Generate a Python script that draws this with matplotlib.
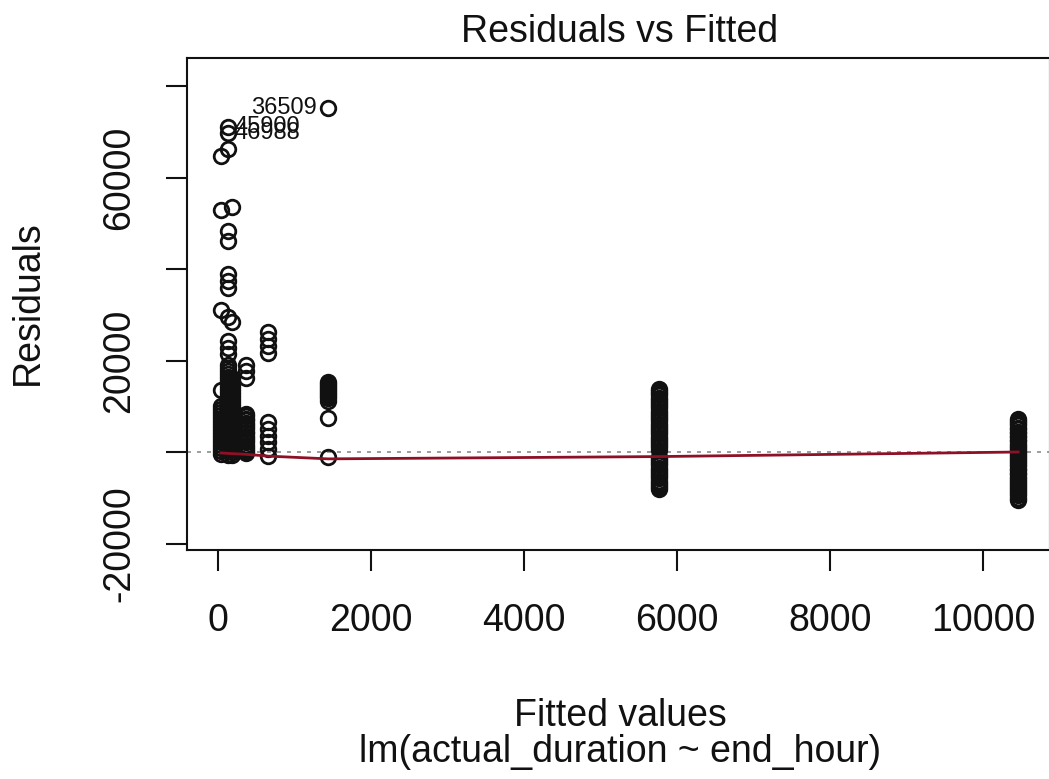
import matplotlib

matplotlib.use("Agg")
import matplotlib.pyplot as plt
import numpy as np

plt.rcParams["font.family"] = ["Liberation Sans", "DejaVu Sans"]

W, H = 1049, 779
INK = "#111111"
ZERO = "#8c8c8c"
SMOOTH = "#8e1026"

# residuals grouped by fitted value (one column of points per fitted level)
FIT_A = 40
RES_A = [64700, 52800, 31000, 13500,
         10000, 9300, 8700, 8000, 7400, 6700, 6100, 5400, 4800, 4100, 3500,
         2800, 2200, 1500, 900, 200, -500]
FIT_B = 125
RES_B = [71000, 69700, 66200, 48300, 46100, 38900, 37400, 35800, 29500,
         24300, 22700, 21400,
         19000, 18400, 17700, 17100, 16400, 15800, 15100, 14500, 13800, 13200,
         12500, 11900, 11200, 10600, 9900, 9300, 8600, 8000, 7300, 6700, 6000,
         5400, 4700, 4100, 3400, 2800, 2100, 1500, 800, 200, -600]
FIT_C = 185
RES_C = [53500, 28400,
         16200, 15500, 14900, 14200, 13600, 12900, 12300, 11600, 11000, 10300,
         9700, 9000, 8400, 7700, 7100, 6400, 5800, 5100, 4500, 3800, 3200, 2500,
         1900, 1200, 600, -100, -700]
FIT_D = 360
RES_D = [19000, 17600, 16200,
         8300, 7850, 7300, 6900, 6350, 5950, 5400, 5000, 4450, 4050, 3500, 3100,
         2550, 2150, 1600, 1200, 650, 250, -200]
FIT_E = 660
RES_E = [26200, 24700, 23100, 21600, 6600, 5100, 3600, 2100, 600, -900]
FIT_F = 1440
RES_F = [75200, 15300, 14850, 14400, 13950, 13500, 13050, 12600, 12150, 11700,
         11100, 7400, -1100]
FIT_G = 5760
RES_G = [13800, 13350, 12850, 12400, 11900, 11450, 10950, 10500, 10000, 9550,
         9050, 8600, 8100, 7650, 7150, 6700, 6200, 5750, 5250, 4800, 4300, 3850,
         3350, 2900, 2400, 1950, 1450, 1000, 500, -1000, -1500, -1950, -2450,
         -2900, -3400, -3850, -4350, -4800, -5300, -5750, -6250, -6700, -7200,
         -7650, -8100]
FIT_H = 10460
RES_H = [7200, 6800, 6250, 5900, 5350, 5000, 4400, 4100, 3550, 3200, 2650,
         2300, 1750, 1400, 850, 500, 0, -350, -900, -1300, -1850, -2200, -2700,
         -3100, -3650, -4000, -4550, -4900, -5450, -5800, -6350, -6700, -7250,
         -7600, -8150, -8500, -9050, -9400, -9950, -10500]

# lowess smooth through the fitted levels
SMOOTH_X = [40, 125, 360, 660, 1440, 5760, 10460]
SMOOTH_Y = [-200, -300, -500, -900, -1500, -1000, 0]

# the three largest residuals, labelled by observation id
ID_X = [FIT_F, FIT_B, FIT_B]
ID_Y = [75200, 71000, 69700]
ID_TEXT = ["36509", "45900", "46988"]

XTICKS = [0, 2000, 4000, 6000, 8000, 10000]
YTICKS = [-20000, 0, 20000, 40000, 60000, 80000]
YTICK_LABELS = ["-20000", "", "20000", "", "60000", ""]


def px(x, y):
    return x / W, 1 - y / H


def main() -> None:
    fig = plt.figure(figsize=(W / 100, H / 100), dpi=100)
    fig.patch.set_facecolor("white")
    left, right, top, bottom = 187, 1050, 58, 550
    ax = fig.add_axes([left / W, 1 - bottom / H, (right - left) / W, (bottom - top) / H])

    ax.axhline(0, color=ZERO, linewidth=1.2, linestyle=(0, (2.4, 3.6)), zorder=1)

    groups = [(FIT_A, RES_A), (FIT_B, RES_B), (FIT_C, RES_C), (FIT_D, RES_D),
              (FIT_E, RES_E), (FIT_F, RES_F), (FIT_G, RES_G), (FIT_H, RES_H)]
    for fit, res in groups:
        ax.plot(np.full(len(res), fit), res, linestyle="none", marker="o",
                markersize=10.5, markerfacecolor="none", markeredgecolor=INK,
                markeredgewidth=2.0, zorder=2)

    ax.plot(SMOOTH_X, SMOOTH_Y, color=SMOOTH, linewidth=2.0, zorder=3)

    # ids left of points in the right half of their range, right of the rest
    for x, y, label in zip(ID_X, ID_Y, ID_TEXT):
        right_side = x < np.mean([min(ID_X), max(ID_X)])
        ax.annotate(label, (x, y), xytext=(5 if right_side else -8, 0),
                    textcoords="offset points", ha="left" if right_side else "right",
                    va="center", fontsize=17, color=INK)

    ax.set_xlim(-405, 10876)
    ax.set_ylim(-21420, 86120)
    ax.set_xticks(XTICKS)
    ax.set_xticklabels([str(t) for t in XTICKS])
    ax.set_yticks(YTICKS)
    ax.set_yticklabels(YTICK_LABELS, rotation=90, va="center")
    ax.tick_params(axis="both", length=15, width=1.5, color=INK, labelsize=27,
                   labelcolor=INK)
    ax.tick_params(axis="x", pad=23)
    ax.tick_params(axis="y", pad=21)
    for spine in ax.spines.values():
        spine.set_linewidth(1.5)
        spine.set_color(INK)

    fig.text(*px(620, 42), "Residuals vs Fitted", ha="center", va="baseline",
             fontsize=27, color=INK)
    fig.text(*px(620, 726), "Fitted values", ha="center", va="baseline",
             fontsize=27, color=INK)
    fig.text(*px(620, 762), "lm(actual_duration ~ end_hour)", ha="center",
             va="baseline", fontsize=27, color=INK)
    fig.text(*px(28, 303), "Residuals", ha="center", va="center", rotation=90,
             fontsize=27, color=INK)

    fig.savefig("out.png", dpi=100, facecolor="white")


if __name__ == "__main__":
    main()
